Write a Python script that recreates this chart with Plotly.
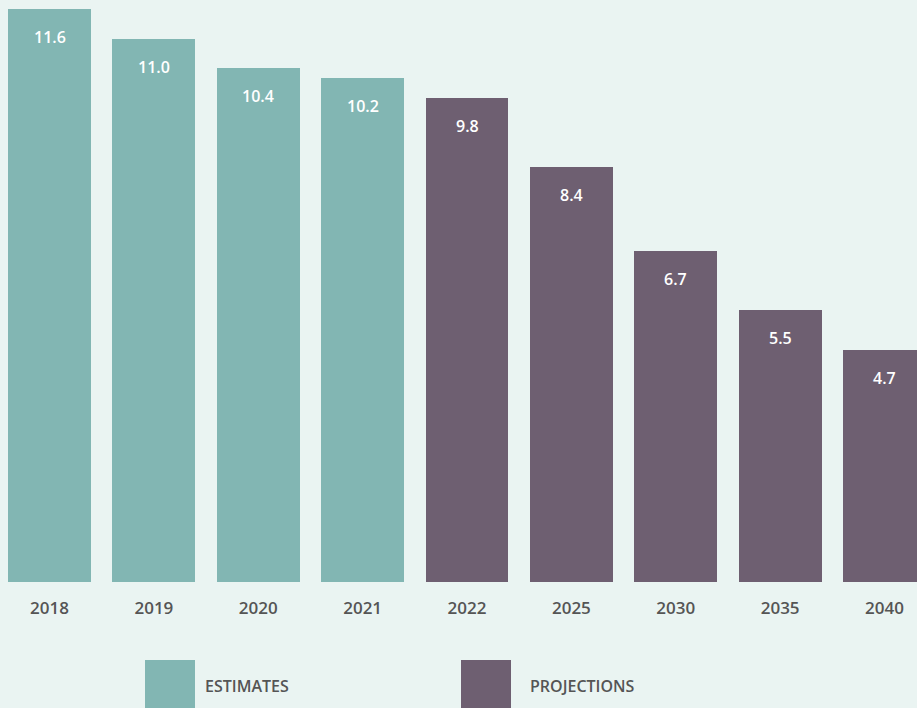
import plotly.graph_objects as go

years = ["2018", "2019", "2020", "2021", "2022", "2025", "2030", "2035", "2040"]
values = [11.6, 11.0, 10.4, 10.2, 9.8, 8.4, 6.7, 5.5, 4.7]
kinds = ["ESTIMATES"] * 4 + ["PROJECTIONS"] * 5
legend_labels = ["ESTIMATES", "PROJECTIONS"]

TEAL = "#82B6B3"
PURPLE = "#6E5F71"
BG = "#EAF4F2"
TXT = "#555555"
colors = {"ESTIMATES": TEAL, "PROJECTIONS": PURPLE}

xs = list(range(len(years)))
fig = go.Figure()
fig.add_trace(go.Bar(
    x=xs, y=values, width=0.795,
    marker=dict(color=[colors[k] for k in kinds], line=dict(width=0)),
    hoverinfo="skip", showlegend=False,
))

for x, v in zip(xs, values):
    fig.add_annotation(x=x, y=v, xref="x", yref="y", text=f"{v:.1f}",
                       showarrow=False, yanchor="middle", yshift=-28,
                       font=dict(family="Open Sans", size=16, color="white", weight=600))

# legend drawn as shapes + text
leg_x = [145, 461]
for lx, lab in zip(leg_x, legend_labels):
    fig.add_shape(type="rect", xref="paper", yref="paper",
                  x0=lx / 917, x1=(lx + 50) / 917,
                  y0=(582 - 710) / 573, y1=(582 - 660) / 573,
                  fillcolor=colors[lab], line=dict(width=0), layer="above")
    fig.add_annotation(xref="paper", yref="paper",
                       x=(lx + 58) / 917 if lab == "ESTIMATES" else (lx + 67) / 917,
                       y=(582 - 686) / 573, text=lab, showarrow=False,
                       xanchor="left", yanchor="middle",
                       font=dict(family="Open Sans", size=16, color=TXT, weight=600))

fig.update_layout(
    width=917, height=708,
    margin=dict(l=0, r=0, t=9, b=126),
    paper_bgcolor=BG, plot_bgcolor=BG,
    bargap=0,
    xaxis=dict(range=[-49.5 / 104.375, (917 - 49.5) / 104.375],
               tickmode="array", tickvals=xs, ticktext=years,
               showgrid=False, zeroline=False, showline=False,
               ticks="", ticklabelstandoff=14,
               tickfont=dict(family="Open Sans", size=17, color=TXT, weight=600)),
    yaxis=dict(range=[0, 11.6], visible=False, showgrid=False, zeroline=False),
)

fig.write_html("out.html")
